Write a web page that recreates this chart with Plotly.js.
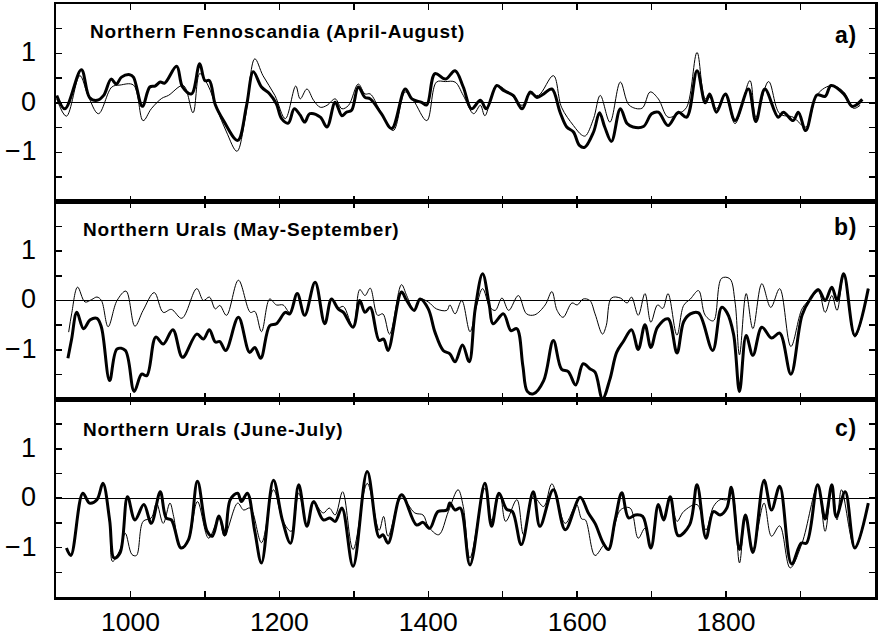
<!DOCTYPE html>
<html><head><meta charset="utf-8">
<script src="https://cdn.plot.ly/plotly-3.0.1.min.js"></script>
<style>body{margin:0;background:#fff}.annotation-text{letter-spacing:0.8px}</style>
</head><body><div id="chart" style="width:882px;height:637px"></div>
<script>
// Panel a: Northern Fennoscandia (April-August)
const fennoThickYears = [901,912,934,945,955,964,974,981,988,999,1004,1016,1026,1033,1040,1046,1062,1070,1082,1093,1100,1106,1114,1125,1144,1156,1165,1176,1187,1196,1203,1212,1220,1228,1234,1241,1255,1264,1275,1284,1290,1297,1306,1315,1322,1337,1351,1369,1378,1391,1398,1409,1423,1436,1447,1458,1470,1478,1492,1501,1514,1526,1537,1546,1555,1566,1577,1586,1595,1603,1610,1622,1630,1637,1646,1658,1667,1675,1689,1700,1709,1722,1736,1747,1761,1772,1778,1787,1799,1812,1830,1840,1852,1870,1877,1890,1897,1907,1922,1933,1941,1958,1969,1975,1983];
const fennoThick = [0.15,-0.12,0.67,0.11,0.05,0.15,0.48,0.38,0.52,0.57,0.52,-0.07,0.32,0.34,0.42,0.4,0.74,0.32,0.18,0.79,0.45,0.45,-0.04,-0.36,-0.76,-0.05,0.63,0.32,0.18,-0.02,-0.32,-0.41,-0.12,-0.25,-0.39,-0.22,-0.29,-0.49,0.01,-0.26,-0.19,-0.15,0.32,0.11,0.08,-0.22,-0.52,0.28,0.08,0.01,-0.04,0.59,0.48,0.65,0.32,-0.12,0.05,-0.12,0.35,0.25,0.15,-0.12,0.22,0.11,0.18,0.28,-0.19,-0.49,-0.59,-0.86,-0.9,-0.59,-0.2,-0.49,-0.78,-0.12,-0.42,-0.49,-0.48,-0.22,-0.19,-0.46,-0.19,-0.29,0.65,0.0,0.18,-0.19,0.18,-0.36,0.28,-0.38,0.28,-0.29,-0.19,-0.36,-0.19,-0.56,0.16,0.13,0.35,0.18,-0.07,-0.04,0.07];
const fennoThinYears = [901,914,932,943,957,975,986,1004,1017,1028,1042,1051,1071,1084,1093,1104,1116,1129,1143,1154,1167,1178,1194,1208,1222,1228,1237,1246,1255,1264,1275,1284,1293,1306,1315,1322,1335,1353,1369,1380,1398,1411,1423,1436,1447,1461,1470,1476,1492,1510,1526,1537,1548,1568,1579,1595,1606,1611,1622,1631,1644,1658,1670,1687,1698,1709,1722,1736,1747,1761,1772,1778,1787,1799,1812,1832,1840,1857,1872,1890,1907,1923,1942,1958,1971,1980];
const fennoThin = [0.08,-0.27,0.55,0.15,-0.22,0.32,0.36,0.36,-0.36,-0.12,0.09,0.15,0.35,-0.2,0.59,0.36,-0.12,-0.59,-0.98,-0.32,0.89,0.55,0.15,-0.32,0.34,0.08,0.28,0.05,-0.09,-0.05,0.08,-0.12,-0.05,0.38,0.18,0.18,-0.15,-0.56,0.22,0.05,-0.36,0.42,0.43,0.42,0.15,-0.22,-0.05,-0.26,0.34,0.18,-0.05,0.18,0.15,0.55,-0.09,-0.46,-0.65,-0.67,-0.32,0.15,-0.39,0.42,-0.05,-0.11,0.22,0.08,-0.29,-0.22,-0.09,1.02,0.08,0.11,-0.12,0.15,-0.42,0.45,-0.29,0.43,-0.22,-0.29,-0.49,0.18,0.35,0.22,-0.11,-0.05];

// Panel b: Northern Urals (May-September)
const uralsMSThickYears = [916,921,928,937,946,955,961,972,982,993,1005,1015,1022,1034,1044,1057,1070,1089,1098,1106,1114,1120,1128,1145,1160,1167,1175,1187,1196,1208,1214,1224,1234,1248,1261,1270,1279,1286,1299,1308,1315,1322,1334,1340,1346,1364,1371,1381,1389,1400,1409,1420,1429,1436,1446,1455,1463,1473,1482,1487,1501,1511,1519,1527,1533,1541,1555,1568,1579,1588,1598,1608,1617,1624,1634,1644,1653,1662,1673,1682,1691,1699,1708,1722,1734,1743,1752,1763,1782,1794,1801,1810,1818,1827,1836,1848,1861,1872,1887,1902,1913,1924,1933,1942,1949,1958,1973,1991];
const uralsMSThick = [-1.17,-0.78,-0.24,-0.57,-0.39,-0.36,-0.54,-1.62,-0.98,-1.01,-1.84,-1.49,-1.52,-0.74,-0.88,-0.59,-1.15,-0.68,-0.78,-0.59,-0.84,-0.83,-1.01,-0.34,-1.05,-0.95,-1.17,-0.51,-0.47,-0.24,-0.27,0.14,-0.3,0.37,-0.47,0.03,-0.17,-0.24,-0.54,0.0,-0.24,-0.14,-0.81,-0.78,-1.01,0.17,0.0,-0.2,0.03,-0.17,-0.64,-1.01,-1.08,-1.24,-0.9,-1.24,-0.17,0.54,-0.1,-0.47,-0.27,-0.61,-0.57,-1.32,-1.84,-1.89,-1.62,-0.81,-1.39,-1.44,-1.71,-1.28,-1.38,-1.45,-1.99,-1.59,-1.05,-0.83,-0.59,-0.99,-0.49,-0.95,-0.54,-0.37,-1.06,-0.43,-0.27,-0.25,-1.01,-0.14,-0.24,-0.68,-1.84,-0.71,-1.11,-0.54,-0.76,-0.66,-1.49,-0.3,0.03,0.22,0.0,0.27,0.0,0.54,-0.71,0.24];
const uralsMSThinYears = [917,921,929,939,948,955,961,970,982,994,1006,1017,1032,1044,1055,1069,1089,1098,1106,1114,1120,1129,1145,1161,1167,1176,1187,1196,1205,1214,1224,1234,1248,1261,1270,1279,1286,1299,1308,1315,1322,1332,1339,1348,1364,1371,1381,1389,1400,1411,1425,1429,1436,1445,1456,1465,1473,1483,1490,1499,1508,1521,1532,1543,1557,1566,1573,1581,1593,1600,1608,1617,1624,1634,1639,1646,1658,1667,1673,1682,1691,1699,1708,1715,1722,1734,1743,1752,1763,1772,1783,1794,1805,1812,1818,1827,1836,1848,1860,1872,1887,1902,1913,1924,1933,1942,1949,1958,1973,1991];
const uralsMSThin = [-0.64,-0.27,0.27,-0.03,0.02,0.07,0.0,-0.53,0.0,0.19,-0.52,-0.2,0.16,-0.24,-0.18,-0.36,0.24,0.0,0.07,-0.17,-0.1,-0.3,0.41,-0.24,-0.22,-0.63,0.03,-0.09,-0.09,-0.24,0.14,-0.3,0.37,-0.47,0.03,-0.15,-0.12,-0.54,0.22,0.1,0.25,-0.3,-0.27,-0.68,0.32,0.1,-0.2,0.03,-0.03,-0.17,-0.2,-0.09,-0.27,0.0,-0.63,-0.1,0.24,-0.14,-0.2,0.05,-0.2,0.1,-0.27,-0.29,-0.09,0.18,-0.2,-0.34,-0.05,-0.09,0.03,0.0,-0.27,-0.68,-0.51,0.05,0.05,-0.05,0.07,-0.3,0.14,-0.44,-0.09,-0.16,0.14,-0.7,-0.1,0.03,0.2,-0.3,-0.41,0.45,0.44,-0.03,-1.1,0.14,-0.57,0.34,-0.14,0.24,-0.93,-0.17,0.03,0.18,-0.24,0.1,-0.2,0.52,-0.74,0.24];

// Panel c: Northern Urals (June-July)
const uralsJJThickYears = [914,920,936,945,955,963,972,978,986,996,1006,1018,1028,1040,1048,1055,1068,1078,1090,1103,1110,1119,1127,1134,1144,1149,1157,1167,1176,1192,1204,1215,1226,1237,1246,1259,1268,1275,1284,1299,1318,1334,1339,1346,1364,1384,1393,1402,1413,1425,1429,1436,1443,1456,1476,1485,1495,1505,1513,1525,1541,1550,1568,1584,1604,1615,1624,1635,1642,1651,1660,1669,1678,1688,1699,1709,1716,1725,1736,1751,1761,1773,1783,1792,1801,1807,1818,1826,1836,1851,1861,1872,1888,1901,1908,1923,1933,1942,1948,1960,1973,1991];
const uralsJJThick = [-1.01,-1.16,0.1,-0.1,-0.03,0.3,-0.44,-1.21,-1.11,0.03,-0.44,-0.13,-0.51,0.13,-0.4,-0.44,-1.01,-0.84,0.34,-0.67,-0.77,-0.36,-0.74,-0.03,0.1,-0.07,0.1,-0.67,-1.31,0.36,-0.44,-0.91,0.27,-0.57,-0.07,-0.44,-0.4,-0.47,-0.2,-1.38,0.54,-0.79,-0.74,-0.91,0.07,-0.54,-0.49,-0.61,-0.27,-0.24,-0.1,-0.24,-0.2,-1.35,0.3,-0.57,0.1,-0.22,-0.27,-0.94,0.13,-0.57,0.17,-0.64,0.02,-0.3,-0.51,-0.91,-1.04,-0.44,0.11,-0.4,-0.34,-0.37,-1.01,-0.13,-0.44,0.03,-0.76,-0.54,0.27,-0.81,-0.27,-0.34,-0.2,0.22,-1.04,-0.34,-1.1,0.36,-0.24,0.24,-1.33,-0.91,-0.91,0.27,-0.42,0.27,-0.38,0.13,-1.01,-0.1];
const uralsJJThinYears = [914,920,936,945,955,963,972,976,986,993,1002,1008,1017,1028,1035,1044,1053,1058,1067,1078,1090,1105,1119,1126,1144,1152,1161,1176,1192,1205,1216,1226,1237,1246,1259,1267,1275,1285,1299,1318,1334,1340,1346,1364,1382,1393,1400,1414,1427,1440,1447,1456,1476,1485,1496,1504,1519,1528,1541,1555,1566,1584,1599,1606,1611,1624,1637,1642,1658,1671,1682,1691,1699,1709,1716,1725,1734,1743,1761,1773,1783,1792,1801,1808,1818,1826,1836,1851,1861,1872,1886,1902,1923,1933,1942,1949,1955,1973,1991];
const uralsJJThin = [-1.01,-1.16,0.1,-0.1,-0.03,0.3,-0.5,-1.28,-1.04,-0.71,-1.14,-1.16,-0.47,-0.4,-0.1,-0.51,-0.1,-0.37,-1.01,-0.84,-0.07,-0.81,-0.4,-0.77,-0.1,-0.24,-0.2,-0.9,0.17,-0.47,-0.67,0.1,-0.54,-0.1,-0.3,-0.2,-0.34,0.13,-1.04,0.3,-0.65,-0.37,-0.77,0.0,-0.3,-0.34,-0.57,-0.74,-0.27,0.17,-0.17,-1.21,0.2,-0.44,0.1,-0.47,-0.03,-0.74,0.03,-0.17,0.29,-0.51,-0.13,-0.42,-0.44,-1.16,-0.94,-1.04,-0.24,-0.2,-0.81,-0.61,-0.98,-0.17,-0.42,0.0,-0.47,-0.27,-0.13,-0.64,-0.17,-0.03,-0.03,0.1,-1.31,-0.34,-1.03,-0.1,-0.77,-0.56,-1.41,-0.91,0.24,-0.67,0.24,-0.44,0.17,-1.01,-0.1];

const panelTitles = ['Northern Fennoscandia (April-August)', 'Northern Urals (May-September)', 'Northern Urals (June-July)'];
const panelLetters = ['a)', 'b)', 'c)'];
const xTickVals = [900,1000,1100,1200,1300,1400,1500,1600,1700,1800,1900,2000];
const xTickText = ['','1000','','1200','','1400','','1600','','1800','',''];
const yTickVals = [-1.5,-1,-0.5,0,0.5,1,1.5];
const yLabelVals = [-1, 0, 1];
const yLabelText = ['\u22121', '0', '1'];

const FONT = 'Liberation Sans, Arial, Helvetica, sans-serif';
function thin(x, y, xa, ya) {
  return {x: x, y: y, xaxis: xa, yaxis: ya, type: 'scatter', mode: 'lines',
    line: {color: '#000', width: 1, shape: 'spline', smoothing: 1}, hoverinfo: 'skip', showlegend: false};
}
function thick(x, y, xa, ya) {
  return {x: x, y: y, xaxis: xa, yaxis: ya, type: 'scatter', mode: 'lines',
    line: {color: '#000', width: 3, shape: 'spline', smoothing: 1}, hoverinfo: 'skip', showlegend: false};
}
const data = [
  thin(fennoThinYears, fennoThin, 'x3', 'y3'),
  thick(fennoThickYears, fennoThick, 'x3', 'y3'),
  thin(uralsMSThinYears, uralsMSThin, 'x2', 'y2'),
  thick(uralsMSThickYears, uralsMSThick, 'x2', 'y2'),
  thin(uralsJJThinYears, uralsJJThin, 'x', 'y'),
  thick(uralsJJThickYears, uralsJJThick, 'x', 'y')
];

function xax(anchor, labels) {
  return {anchor: anchor, domain: [0, 1], range: [900, 2000], tickmode: 'array', tickvals: xTickVals,
    ticktext: labels ? xTickText : xTickVals.map(() => ''), showticklabels: labels,
    ticks: 'inside', ticklen: 6, tickwidth: 1.5, tickcolor: '#000',
    showline: true, linecolor: '#000', linewidth: 2.5, mirror: 'allticks',
    showgrid: false, zeroline: false, fixedrange: true,
    tickfont: {family: FONT, size: 26.5, color: '#000'}};
}
function yax(anchor, dom) {
  return {anchor: anchor, domain: dom, range: [-2, 2], tickmode: 'array', tickvals: yTickVals,
    showticklabels: false,
    ticks: 'inside', ticklen: 6, tickwidth: 1.5, tickcolor: '#000',
    showline: true, linecolor: '#000', linewidth: 2.5, mirror: 'allticks',
    showgrid: false, zeroline: true, zerolinecolor: '#000', zerolinewidth: 1.2, fixedrange: true};
}

const annY = [0.9528, 0.6189, 0.2833];
const annX = [0.0385, 0.0305, 0.0305];
const letY = [0.9477, 0.6239, 0.285];
const yRefs = ['y3', 'y2', 'y'];
const annotations = [];
for (let i = 0; i < 3; i++) {
  annotations.push({xref: 'paper', yref: 'paper', x: annX[i], y: annY[i], xanchor: 'left', yanchor: 'middle',
    text: panelTitles[i], showarrow: false, font: {family: FONT, size: 19, color: '#000', weight: 'bold'}});
  annotations.push({xref: 'paper', yref: 'paper', x: 0.98, y: letY[i], xanchor: 'right', yanchor: 'middle',
    text: panelLetters[i], showarrow: false, font: {family: FONT, size: 23, color: '#000', weight: 'bold'}});
  for (let k = 0; k < yLabelVals.length; k++) {
    annotations.push({xref: 'paper', yref: yRefs[i], x: -0.021, y: yLabelVals[k], xanchor: 'right', yanchor: 'middle',
      yshift: 1, text: yLabelText[k], showarrow: false, font: {family: FONT, size: 27, color: '#000'}});
  }
}

const layout = {
  width: 882, height: 637,
  margin: {l: 56, r: 7, t: 4, b: 40},
  paper_bgcolor: '#fff', plot_bgcolor: '#fff',
  xaxis: xax('y', true),
  xaxis2: xax('y2', false),
  xaxis3: xax('y3', false),
  yaxis: yax('x', [0, 1/3]),
  yaxis2: yax('x2', [1/3, 2/3]),
  yaxis3: yax('x3', [2/3, 1]),
  annotations: annotations,
  showlegend: false
};
Plotly.newPlot('chart', data, layout, {staticPlot: true, displayModeBar: false});
</script></body></html>
